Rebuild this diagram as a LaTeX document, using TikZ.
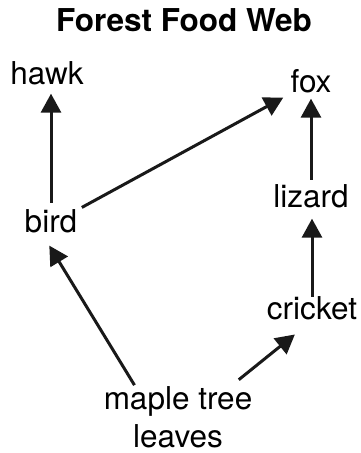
\documentclass[tikz,border=0pt]{standalone}
\usepackage{fontspec}
\setmainfont{TeX Gyre Heros}
\usetikzlibrary{arrows.meta}

\tikzset{
organism/.style={inner sep=0pt, font=\fontsize{31.5}{38}\selectfont},
eaten/.style={black!90, line width=3pt, -{Triangle[length=19pt, width=20pt]}}
}

\begin{document}
\begin{tikzpicture}[x=1pt, y=1pt]

\useasboundingbox (0,0) rectangle (361,453);

\node[anchor=base, inner sep=0pt] (title) at (184,421) [font=\fontsize{31.5}{38}\selectfont\bfseries] {Forest Food Web};


% organisms
{
\node[organism, anchor=base] (hawk) at (47,368) {hawk};
\node[organism, anchor=base] (fox) at (311,360) {fox};

\node[organism, anchor=base] (bird) at (51,220) {bird};
\node[organism, anchor=base] (lizard) at (311,245) {lizard};

\node[organism, anchor=base] (cricket) at (312,133) {cricket};

\node[organism, anchor=north, align=center] (leaves) at (178,67) {maple tree\\leaves};
}


% arrows
{
\draw[eaten, shorten <=7pt, shorten >=8pt] (bird.north) -- (bird.north |- hawk.south);
\draw[eaten, shorten <=5pt, shorten >=8pt] (bird.north east) -- (fox.south west);

\draw[eaten, shorten <=5pt, shorten >=5pt] (lizard.north) -- (lizard.north |- fox.south);
\draw[eaten, shorten <=0pt, shorten >=10pt] (cricket.north) -- (cricket.north |- lizard.south);

\draw[eaten, shorten <=1pt, shorten >=14pt] ([xshift=-43pt]leaves.north) -- ([xshift=-9pt]bird.south);
\draw[eaten, shorten <=10pt, shorten >=22pt] ([xshift=53pt]leaves.north) -- (cricket.south);
}

\end{tikzpicture}
\end{document}
